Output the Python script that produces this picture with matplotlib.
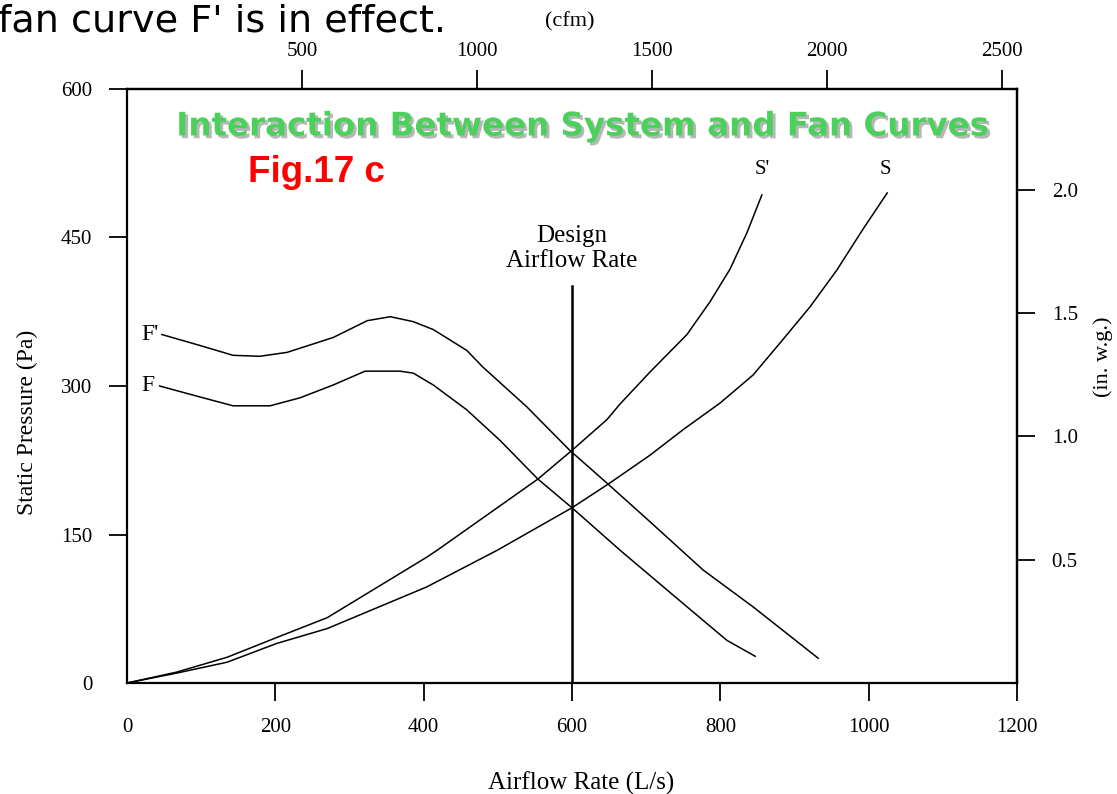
import matplotlib
matplotlib.use('Agg')
import matplotlib.pyplot as plt
import matplotlib.patheffects as pe

# Airflow (L/s) vs static pressure (Pa)
s_prime_x = [0, 67, 135, 202, 270, 404, 418, 554, 600, 647, 665, 705, 755, 786, 813, 836, 856]
s_prime_y = [0, 11, 26, 46, 66, 127, 134, 206, 235, 266, 282, 314, 352, 385, 418, 455, 493]

s_x = [0, 67, 135, 202, 270, 404, 499, 600, 649, 705, 750, 800, 844, 880, 921, 957, 992, 1025]
s_y = [0, 10, 21, 40, 55, 97, 134, 177, 201, 230, 256, 283, 311, 343, 380, 417, 458, 495]

f_prime_x = [47, 98, 143, 179, 216, 278, 324, 355, 386, 413, 458, 480, 539, 597, 647, 705, 777, 844, 932]
f_prime_y = [352, 341, 331, 330, 334, 349, 366, 370, 365, 357, 336, 319, 279, 235, 202, 163, 114, 77, 25]

f_x = [44, 98, 143, 193, 233, 278, 321, 368, 386, 413, 458, 503, 554, 600, 665, 755, 809, 847]
f_y = [300, 289, 280, 280, 288, 301, 315, 315, 313, 301, 276, 245, 206, 177, 134, 77, 43, 27]

design_flow = 600
design_top = 401

x_ticks = [0, 200, 400, 600, 800, 1000, 1200]
y_ticks = [0, 150, 300, 450, 600]
cfm_ticks = [500, 1000, 1500, 2000, 2500]
inwg_ticks = [0.5, 1.0, 1.5, 2.0]

LS_PER_CFM = 0.471947
PA_PER_INWG = 249.089

W, H = 1117, 794
serif = 'Liberation Serif'

fig = plt.figure(figsize=(W / 100, H / 100), dpi=100)
ax = fig.add_axes([127 / W, 1 - 683 / H, 890 / W, 594 / H])

ax.plot(s_prime_x, s_prime_y, color='k', lw=1.1)
ax.plot(s_x, s_y, color='k', lw=1.1)
ax.plot(f_prime_x, f_prime_y, color='k', lw=1.1)
ax.plot(f_x, f_y, color='k', lw=1.1)
ax.plot([design_flow, design_flow], [0, design_top], color='k', lw=1.8)

ax.set_xlim(0, 1200)
ax.set_ylim(0, 600)
ax.set_xticks(x_ticks)
ax.set_yticks(y_ticks)
for sp in ax.spines.values():
    sp.set_linewidth(1.6)
ax.tick_params(direction='out', length=13, width=1.3, labelsize=15, pad=12)
for lab in ax.get_xticklabels() + ax.get_yticklabels():
    lab.set_family(serif)
ax.xaxis.get_major_ticks()[0].tick1line.set_visible(False)
ax.yaxis.get_major_ticks()[0].tick1line.set_visible(False)

top = ax.secondary_xaxis('top', functions=(lambda x: x / LS_PER_CFM, lambda c: c * LS_PER_CFM))
top.set_xticks(cfm_ticks)
top.tick_params(direction='out', length=14, width=1.3, labelsize=15, pad=6)
top.spines['top'].set_linewidth(1.6)
for lab in top.get_xticklabels():
    lab.set_family(serif)

right = ax.secondary_yaxis('right', functions=(lambda p: p / PA_PER_INWG, lambda i: i * PA_PER_INWG))
right.set_yticks(inwg_ticks)
right.set_yticklabels([f'{v:.1f}' for v in inwg_ticks])
right.tick_params(direction='out', length=13, width=1.3, labelsize=15, pad=12)
right.spines['right'].set_linewidth(1.6)
for lab in right.get_yticklabels():
    lab.set_family(serif)

# labels on the curves
ax.text(31, 352, "F'", family=serif, fontsize=17, ha='center', va='center')
ax.text(28, 300, "F", family=serif, fontsize=17, ha='center', va='center')
ax.text(856, 519, "S'", family=serif, fontsize=15, ha='center', va='center')
ax.text(1022, 519, "S", family=serif, fontsize=15, ha='center', va='center')
ax.text(600, 439, "Design\nAirflow Rate", family=serif, fontsize=18,
        ha='center', va='center', linespacing=1.2)


def px(x, y):
    return x / W, 1 - y / H


fig.text(*px(581, 783), "Airflow Rate (L/s)", family=serif, fontsize=18, ha='center', va='center')
fig.text(*px(27, 422), "Static Pressure (Pa)", family=serif, fontsize=17, rotation=90,
         ha='center', va='center')
fig.text(*px(1103, 357), "(in. w.g.)", family=serif, fontsize=16, rotation=90,
         ha='center', va='center')
fig.text(*px(570, 22), "(cfm)", family=serif, fontsize=16, ha='center', va='center')

note = fig.text(*px(-2, 31), "fan curve F' is in effect.", family='DejaVu Sans',
                fontsize=27, ha='left', va='baseline')
title = fig.text(*px(583, 127), "Interaction Between System and Fan Curves",
                 family='DejaVu Sans', weight='bold', fontsize=22, color='#4cd05c',
                 ha='center', va='center',
                 path_effects=[pe.withSimplePatchShadow(offset=(2, -2), shadow_rgbFace='#888888', alpha=0.6)])
fig_lbl = fig.text(*px(316, 172), "Fig.17 c", family='Liberation Sans', weight='bold',
                   fontsize=26, color='#ff0000', ha='center', va='center')

# fit the widths of the big captions to the picture
fig.canvas.draw()
r = fig.canvas.get_renderer()
for t, target in [(note, 448), (title, 810), (fig_lbl, 137)]:
    w = t.get_window_extent(r).width
    t.set_fontsize(t.get_fontsize() * target / w)

fig.savefig('out.png', dpi=100)
